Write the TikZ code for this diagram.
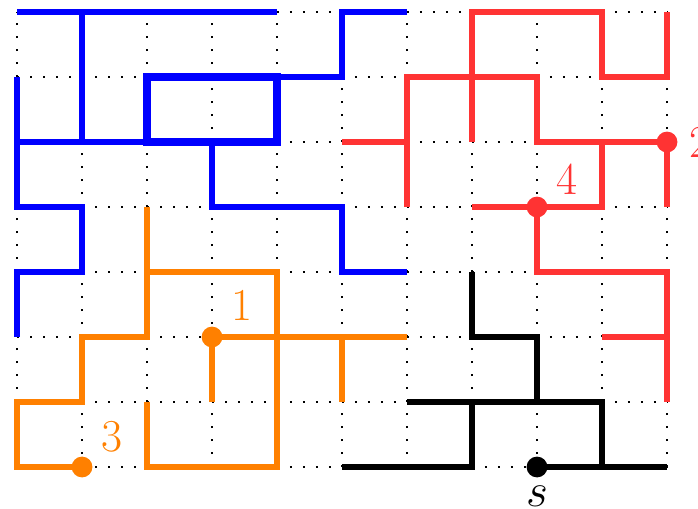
\documentclass[tikz,border=0pt]{standalone}
\usepackage{tikz}
\usepackage{xcolor}

\definecolor{walkblue}{RGB}{0,0,255}
\definecolor{walkred}{RGB}{255,51,51}
\definecolor{walkorange}{RGB}{255,128,0}

\begin{document}
\begin{tikzpicture}[x=1cm, y=1cm,
    walk/.style={line width=2.6pt},
    site/.style={circle, fill, inner sep=0pt, minimum size=0.32cm},
    tag/.style={font=\fontsize{20}{24}\selectfont}]
    \useasboundingbox (-0.262,-0.646) rectangle (10.477,7.185);

    % Dotted lattice
    \foreach \x in {0,...,10} {
        \draw[line width=0.8pt, dash pattern=on 0.8pt off 4.89pt] (\x,0) -- (\x,7);
    }
    \foreach \y in {0,...,7} {
        \draw[line width=0.8pt, dash pattern=on 0.8pt off 4.89pt] (0,\y) -- (10,\y);
    }

    % Blue cluster
    \begin{scope}[walk, walkblue]
        \draw (0,7) -- (4,7);
        \draw (1,7) -- (1,5);
        \draw (0,6) -- (0,4) -- (1,4) -- (1,3) -- (0,3) -- (0,2);
        \draw (0,5) -- (4,5);
        \draw[line width=3.2pt] (2,5) rectangle (4,6);
        \draw (4,6) -- (5,6) -- (5,7) -- (6,7);
        \draw (3,5) -- (3,4) -- (5,4) -- (5,3) -- (6,3);
    \end{scope}

    % Red cluster
    \begin{scope}[walk, walkred]
        \draw (10,7) -- (10,6) -- (9,6) -- (9,7) -- (7,7) -- (7,5);
        \draw (6,4) -- (6,6) -- (8,6) -- (8,5) -- (10,5) -- (10,4);
        \draw (5,5) -- (6,5);
        \draw (9,5) -- (9,4) -- (7,4);
        \draw (8,4) -- (8,3) -- (10,3) -- (10,1);
        \draw (9,2) -- (10,2);
    \end{scope}

    % Orange cluster
    \begin{scope}[walk, walkorange]
        \draw (2,4) -- (2,2) -- (1,2) -- (1,1) -- (0,1) -- (0,0) -- (1,0);
        \draw (2,1) -- (2,0) -- (4,0) -- (4,3) -- (2,3);
        \draw (3,1) -- (3,2) -- (6,2);
        \draw (5,2) -- (5,1);
    \end{scope}

    % Black cluster
    \begin{scope}[walk, black]
        \draw (7,3) -- (7,2) -- (8,2) -- (8,1);
        \draw (6,1) -- (9,1) -- (9,0);
        \draw (7,1) -- (7,0) -- (5,0);
        \draw (8,0) -- (10,0);
    \end{scope}

    % Marked sites and their labels
    \node[site, walkorange] (one) at (3,2) {};
    \node[tag, walkorange] (onelabel) at (3.46,2.49) {1};
    \node[site, walkred] (two) at (10,5) {};
    \node[tag, walkred] (twolabel) at (10.5,5) {2};
    \node[site, walkorange] (three) at (1,0) {};
    \node[tag, walkorange] (threelabel) at (1.46,0.46) {3};
    \node[site, walkred] (four) at (8,4) {};
    \node[tag, walkred] (fourlabel) at (8.46,4.42) {4};
    \node[site, black] (origin) at (8,0) {};
    \node[tag] (originlabel) at (8,-0.45) {$s$};
\end{tikzpicture}
\end{document}
